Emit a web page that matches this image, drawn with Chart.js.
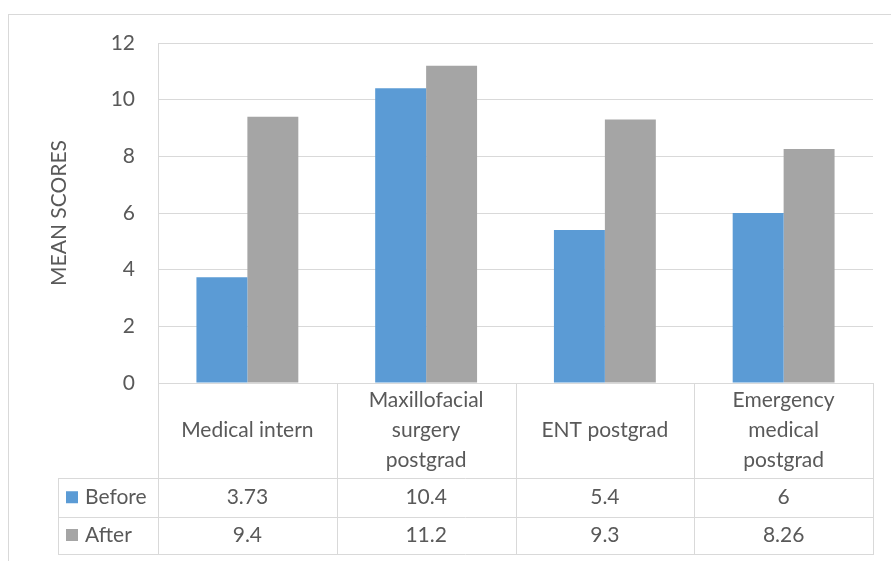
<!DOCTYPE html>
<html>
<head>
<meta charset="utf-8">
<script src="https://cdn.jsdelivr.net/npm/chart.js@4"></script>
<style>
  html, body { margin: 0; padding: 0; background: #fff; }
  #myChart { display: block; }
</style>
</head>
<body>
<canvas id="myChart" width="891" height="561"></canvas>
<script>
const categories = ['Medical intern', 'Maxillofacial surgery postgrad', 'ENT postgrad', 'Emergency medical postgrad'];
const before = [3.73, 10.4, 5.4, 6];
const after = [9.4, 11.2, 9.3, 8.26];
const yTicks = [0, 2, 4, 6, 8, 10, 12];

const txtColor = '#595959';
const lineColor = '#d9d9d9';
const fontFam = 'Lato, "Liberation Sans", sans-serif';
const fontSize = 21;

// wrap a label into lines that fit the column width
function wrap(ctx, text, maxW) {
  const words = text.split(' ');
  const lines = [];
  let cur = '';
  words.forEach(w => {
    const test = cur ? cur + ' ' + w : w;
    if (ctx.measureText(test).width > maxW && cur) {
      lines.push(cur);
      cur = w;
    } else {
      cur = test;
    }
  });
  if (cur) lines.push(cur);
  return lines;
}

// outer frame of the chart
const frame = {
  id: 'frame',
  beforeDraw(chart) {
    const ctx = chart.ctx;
    ctx.save();
    ctx.fillStyle = '#fff';
    ctx.fillRect(0, 0, chart.width, chart.height);
    ctx.strokeStyle = lineColor;
    ctx.lineWidth = 1;
    ctx.strokeRect(8.5, 14.5, 1000, 1000);
    ctx.restore();
  }
};

// data table under the plot
const dataTable = {
  id: 'dataTable',
  afterDraw(chart) {
    const ctx = chart.ctx;
    const area = chart.chartArea;
    const xs = chart.scales.x;
    const n = categories.length;
    const colW = (area.right - area.left) / n;
    const top = area.bottom;
    const r1 = top + 95;
    const r2 = r1 + 38.5;
    const r3 = r2 + 37;
    const tableLeft = 58;

    ctx.save();
    ctx.strokeStyle = lineColor;
    ctx.lineWidth = 1;
    ctx.beginPath();
    [r1, r2, r3].forEach(y => {
      ctx.moveTo(tableLeft, Math.round(y) + 0.5);
      ctx.lineTo(area.right, Math.round(y) + 0.5);
    });
    ctx.moveTo(tableLeft + 0.5, Math.round(r1));
    ctx.lineTo(tableLeft + 0.5, Math.round(r3) + 1);
    for (let i = 0; i <= n; i++) {
      const x = Math.round(area.left + i * colW) + 0.5;
      ctx.moveTo(x, top);
      ctx.lineTo(x, Math.round(r3) + 1);
    }
    ctx.stroke();

    ctx.fillStyle = txtColor;
    ctx.font = fontSize + 'px ' + fontFam;
    ctx.textAlign = 'center';
    ctx.textBaseline = 'middle';
    const lh = 30;
    categories.forEach((c, i) => {
      const cx = xs.getPixelForValue(i);
      const lines = wrap(ctx, c, 145);
      const mid = (top + r1) / 2;
      lines.forEach((l, j) => {
        ctx.fillText(l, cx, mid + (j - (lines.length - 1) / 2) * lh);
      });
      ctx.fillText(String(before[i]), cx, (r1 + r2) / 2);
      ctx.fillText(String(after[i]), cx, (r2 + r3) / 2);
    });

    // legend keys
    const sets = chart.data.datasets;
    const rows = [(r1 + r2) / 2, (r2 + r3) / 2];
    ctx.textAlign = 'left';
    sets.forEach((ds, k) => {
      ctx.fillStyle = ds.backgroundColor;
      ctx.fillRect(66, rows[k] - 6, 12, 12);
      ctx.fillStyle = txtColor;
      ctx.fillText(ds.label, 85, rows[k]);
    });
    ctx.restore();
  }
};

const data = {
  labels: categories,
  datasets: [
    {
      label: 'Before',
      backgroundColor: '#5b9bd5',
      data: before,
      categoryPercentage: 0.57,
      barPercentage: 1.0
    },
    {
      label: 'After',
      backgroundColor: '#a5a5a5',
      data: after,
      categoryPercentage: 0.57,
      barPercentage: 1.0
    }
  ]
};

const config = {
  type: 'bar',
  data: data,
  options: {
    responsive: false,
    animation: false,
    layout: {
      padding: { top: 43, right: 18, bottom: 178, left: 0 }
    },
    plugins: {
      legend: { display: false },
      tooltip: { enabled: false }
    },
    scales: {
      x: {
        ticks: { display: false },
        grid: { display: false, drawTicks: false },
        border: { display: false },
        afterFit(scale) { scale.height = 0; }
      },
      y: {
        min: 0,
        max: 12,
        afterBuildTicks(scale) {
          scale.ticks = yTicks.map(v => ({ value: v }));
        },
        ticks: {
          color: txtColor,
          padding: 23,
          font: { family: fontFam, size: fontSize }
        },
        grid: { color: lineColor, drawTicks: false },
        border: { display: true, color: lineColor },
        title: {
          display: true,
          text: 'MEAN SCORES',
          color: txtColor,
          font: { family: fontFam, size: fontSize },
          padding: { top: 47, bottom: 0 }
        },
        afterFit(scale) { scale.width = 158; }
      }
    }
  },
  plugins: [frame, dataTable]
};

const myChart = new Chart(document.getElementById('myChart'), config);
</script>
</body>
</html>
